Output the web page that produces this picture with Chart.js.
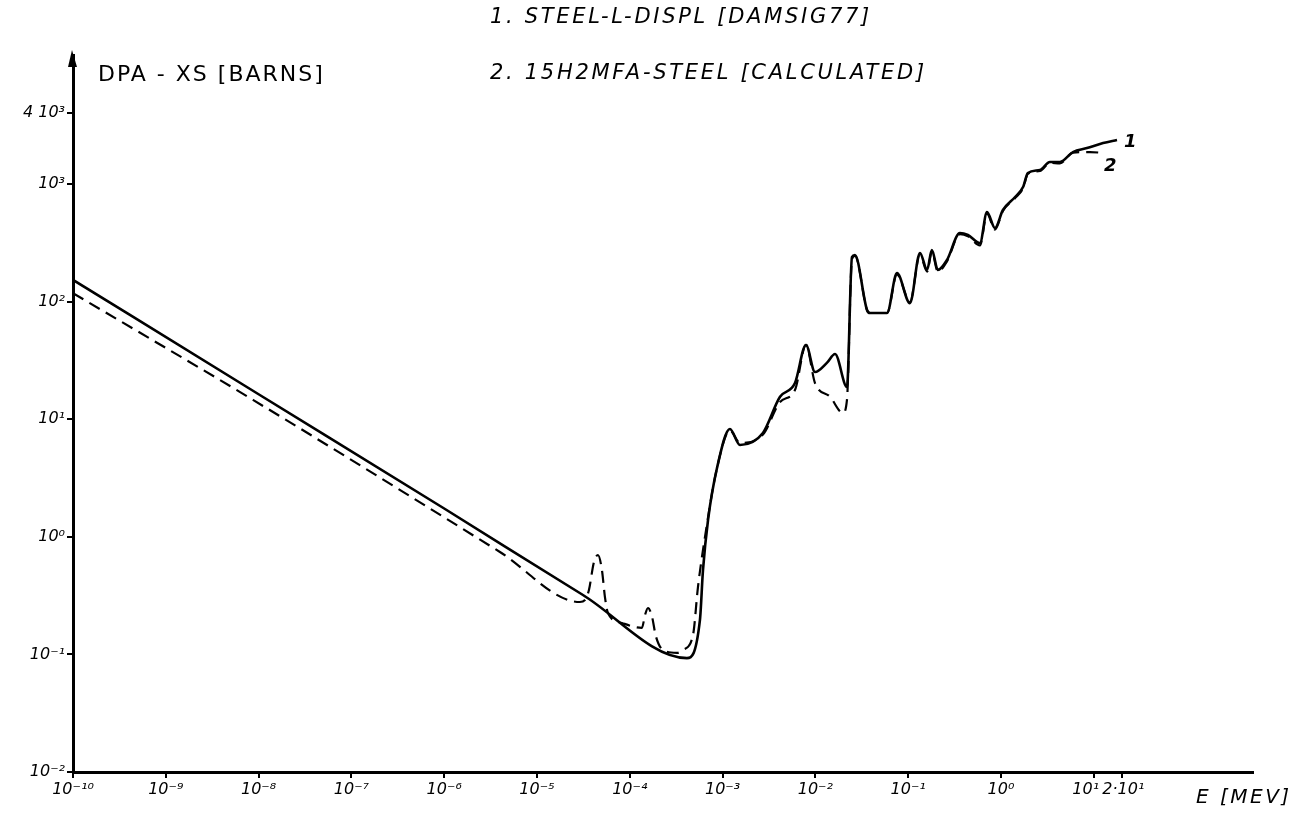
<!DOCTYPE html>
<html>
<head>
<meta charset="utf-8">
<script src="https://cdn.jsdelivr.net/npm/chart.js@4.4.1/dist/chart.umd.min.js"></script>
<style>
  html, body { margin: 0; padding: 0; background: #fff; }
  #wrap { position: relative; width: 1314px; height: 814px; }
  .lbl { position: absolute; color: #000; font-family: "DejaVu Sans", sans-serif; line-height: 1; white-space: nowrap; }
  .it { font-style: italic; }
</style>
</head>
<body>
<div id="wrap">
  <canvas id="dpa"></canvas>
  <div class="lbl" style="left:98px; top:63px; font-size:22px; letter-spacing:2px;">DPA - XS [BARNS]</div>
  <div class="lbl it" style="left:490px; top:6px; font-size:21px; letter-spacing:2.7px;">1. STEEL-L-DISPL [DAMSIG77]</div>
  <div class="lbl it" style="left:490px; top:62px; font-size:21px; letter-spacing:2.7px;">2. 15H2MFA-STEEL [CALCULATED]</div>
  <div class="lbl it" style="left:1196px; top:786px; font-size:20px; letter-spacing:2.5px;">E [MEV]</div>
  <div class="lbl it" style="left:1124px; top:132px; font-size:18px; font-weight:bold;">1</div>
  <div class="lbl it" style="left:1104px; top:156px; font-size:18px; font-weight:bold;">2</div>
</div>
<script>
// energy [MeV] and DPA cross section [barns]
const energy1 = [1e-10, 1e-8, 1e-6, 3.13e-5, 4.13e-4, 5.70e-4, 6.15e-4, 6.97e-4, 8.71e-4, 1.20e-3,
  1.54e-3, 2.72e-3, 4.16e-3, 6.03e-3, 7.92e-3, 9.91e-3, 1.33e-2, 1.63e-2, 2.19e-2, 2.48e-2,
  2.67e-2, 3.60e-2, 3.88e-2, 5.92e-2, 7.57e-2, 0.1045, 0.134, 0.160, 0.180, 0.209,
  0.262, 0.361, 0.441, 0.594, 0.707, 0.861, 1.05, 1.42, 1.73, 1.95,
  2.63, 3.37, 4.32, 5.97, 8.45, 12.6, 17.8];
const xs1 = [153, 16.3, 1.74, 0.32, 0.093, 0.196, 0.52, 1.39, 3.85, 8.26,
  6.04, 7.64, 15.5, 20.3, 42.8, 25.2, 30.1, 35.8, 18.8, 239,
  249, 84.9, 80, 80, 175, 97, 259, 186, 275, 186,
  226, 383, 368, 315, 578, 423, 601, 775, 942, 1240,
  1316, 1540, 1540, 1870, 2020, 2230, 2370];

const energy2 = [1e-10, 8.7e-9, 3.99e-6, 2.90e-5, 3.29e-5, 3.63e-5, 4.11e-5, 4.54e-5, 5.01e-5, 5.40e-5,
  5.82e-5, 8.24e-5, 1.35e-4, 1.46e-4, 1.57e-4, 1.73e-4, 1.91e-4, 2.28e-4, 3.23e-4, 3.74e-4,
  4.80e-4, 5.43e-4, 6.46e-4, 8.71e-4, 1.20e-3, 1.54e-3, 2.72e-3, 4.16e-3, 6.03e-3, 7.92e-3,
  9.91e-3, 1.44e-2, 1.98e-2, 2.19e-2, 2.48e-2, 2.67e-2, 3.60e-2, 3.88e-2, 5.92e-2, 7.57e-2,
  0.1045, 0.134, 0.160, 0.180, 0.209, 0.262, 0.361, 0.441, 0.594, 0.707,
  0.861, 1.05, 1.42, 1.73, 1.95, 2.63, 3.37, 4.32, 5.97, 9.1, 12.6];
const xs2 = [118, 14.6, 0.743, 0.279, 0.290, 0.353, 0.611, 0.70, 0.522, 0.307,
  0.225, 0.185, 0.168, 0.216, 0.248, 0.212, 0.143, 0.109, 0.103, 0.109,
  0.146, 0.374, 0.995, 3.85, 8.0, 6.3, 7.4, 14.0, 17.7, 42.8,
  20.3, 15.5, 11.3, 14.6, 230, 245, 85, 80, 80, 170,
  100, 250, 180, 265, 180, 220, 375, 360, 300, 560,
  410, 590, 760, 920, 1220, 1290, 1510, 1500, 1850, 1870, 1840];

const xTicks = [1e-10, 1e-9, 1e-8, 1e-7, 1e-6, 1e-5, 1e-4, 1e-3, 1e-2, 1e-1, 1, 10, 20];
// the spaces nudge the two crowded labels at the end apart
const xTickLabels = ['10⁻¹⁰', '10⁻⁹', '10⁻⁸', '10⁻⁷', '10⁻⁶', '10⁻⁵', '10⁻⁴', '10⁻³', '10⁻²', '10⁻¹', '10⁰', '10¹\u2003', '\u20092·10¹'];
const yTicks = [0.01, 0.1, 1, 10, 100, 1000, 4000];
const yTickLabels = ['10⁻²', '10⁻¹', '10⁰', '10¹', '10²', '10³', '4 10³'];

const pts = (xs, ys) => xs.map((x, i) => ({ x, y: ys[i] }));

// little arrow on top of the y axis
const arrowHead = {
  id: 'arrowHead',
  afterDraw(chart) {
    const { ctx, chartArea: { left, top } } = chart;
    ctx.save();
    ctx.fillStyle = '#000';
    ctx.beginPath();
    ctx.moveTo(left - 5, top + 12);
    ctx.lineTo(left - 1, top - 5);
    ctx.lineTo(left + 4, top + 12);
    ctx.closePath();
    ctx.fill();
    ctx.restore();
  }
};

const tickFont = { family: 'DejaVu Sans', size: 16, style: 'italic' };

new Chart(document.getElementById('dpa'), {
  type: 'line',
  data: {
    datasets: [
      {
        label: '1. STEEL-L-DISPL [DAMSIG77]',
        data: pts(energy1, xs1),
        borderColor: '#000',
        borderWidth: 2.6,
        pointRadius: 0,
        cubicInterpolationMode: 'monotone',
      },
      {
        label: '2. 15H2MFA-STEEL [CALCULATED]',
        data: pts(energy2, xs2),
        borderColor: '#000',
        borderWidth: 2.2,
        borderDash: [12, 7],
        pointRadius: 0,
        cubicInterpolationMode: 'monotone',
      },
    ],
  },
  options: {
    responsive: true,
    maintainAspectRatio: false,
    animation: false,
    layout: { padding: { top: 55, right: 61, left: 0, bottom: 0 } },
    plugins: { legend: { display: false }, tooltip: { enabled: false } },
    scales: {
      x: {
        type: 'logarithmic',
        min: 1e-10,
        max: 520,
        afterBuildTicks: (s) => { s.ticks = xTicks.map(v => ({ value: v })); },
        afterFit: (s) => { s.height = 42; },
        ticks: {
          autoSkip: false,
          maxRotation: 0,
          color: '#000',
          font: tickFont,
          padding: 2,
          callback: (v, i) => xTickLabels[i],
        },
        grid: { display: true, drawOnChartArea: false, tickLength: 6, color: '#000', lineWidth: 2 },
        border: { display: true, color: '#000', width: 3 },
      },
      y: {
        type: 'logarithmic',
        min: 0.01,
        max: 12500,
        afterBuildTicks: (s) => { s.ticks = yTicks.map(v => ({ value: v })); },
        afterFit: (s) => { s.width = 73; },
        ticks: {
          autoSkip: false,
          color: '#000',
          font: tickFont,
          padding: 2,
          callback: (v, i) => yTickLabels[i],
        },
        grid: { display: true, drawOnChartArea: false, tickLength: 6, color: '#000', lineWidth: 2 },
        border: { display: true, color: '#000', width: 3 },
      },
    },
  },
  plugins: [arrowHead],
});
</script>
</body>
</html>
